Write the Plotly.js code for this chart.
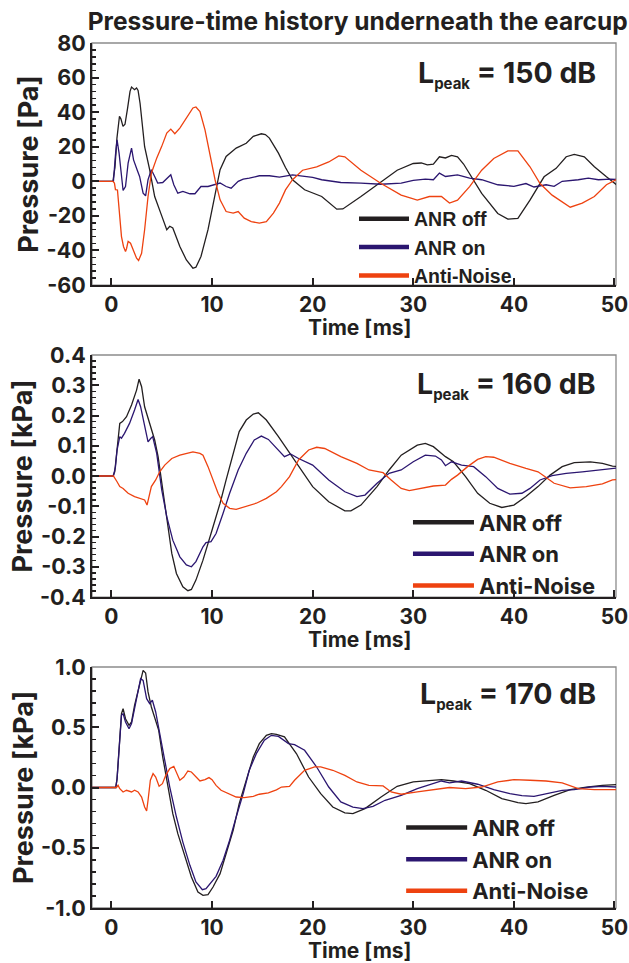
<!DOCTYPE html>
<html>
<head>
<meta charset="utf-8">
<script src="https://cdn.plot.ly/plotly-3.0.1.min.js"></script>
<style>
  html, body { margin: 0; padding: 0; background: #ffffff; }
  #chart { width: 629px; height: 963px; }
</style>
</head>
<body>
<div id="chart"></div>
<script>
// ---------------- DATA ----------------
const seriesNames = ['ANR off', 'ANR on', 'Anti-Noise'];
const panelLabels = ['150 dB', '160 dB', '170 dB'];
const yTitles = ['Pressure [Pa]', 'Pressure [kPa]', 'Pressure [kPa]'];
const xTitle = 'Time [ms]';

const xTickVals = [0, 10, 20, 30, 40, 50];
const xTickText = ['0', '10', '20', '30', '40', '50'];
const yTickVals1 = [-60, -40, -20, 0, 20, 40, 60, 80];
const yTickText1 = ['-60', '-40', '-20', '0', '20', '40', '60', '80'];
const yTickVals2 = [-0.4, -0.3, -0.2, -0.1, 0, 0.1, 0.2, 0.3, 0.4];
const yTickText2 = ['-0.4', '-0.3', '-0.2', '-0.1', '0.0', '0.1', '0.2', '0.3', '0.4'];
const yTickVals3 = [-1, -0.5, 0, 0.5, 1];
const yTickText3 = ['-1.0', '-0.5', '0.0', '0.5', '1.0'];

// Panel 1: Lpeak = 150 dB, pressure in Pa
const t150Off = [-2,0.15,0.35,0.55,0.8,0.95,1.15,1.35,1.6,1.85,2.0,2.3,2.5,2.65,2.85,3.0,3.3,3.8,4.3,5.0,5.5,5.8,6.1,6.3,6.8,7.45,8.1,8.4,8.9,9.6,10.3,10.8,11.4,12.4,13.4,14.1,14.9,15.3,15.7,16.6,17.3,18.0,19.2,20.9,22.4,23.0,24.8,26.8,28.4,30.0,30.8,31.4,32.0,32.6,33.2,33.8,34.4,35.0,35.6,36.8,38.4,39.4,40.4,41.6,43.0,44.2,45.2,46.0,47.0,48.0,49.2,50.2];
const p150Off = [0,0,8,25,37.6,36,31.8,33,42,52,54.5,53,54,52.6,45,37.6,20,6.7,-8.8,-20,-28,-26,-27,-30,-37.7,-45.5,-50.3,-49.7,-43.5,-28,-8.8,6.7,14.4,19.2,22,26,27.5,27,25,16.3,8,0.9,-4.9,-8.8,-16.1,-16,-8.8,-0.3,6.4,10.3,10.6,9.5,9.9,14.2,13.5,15,14.2,10,4.5,-7,-18.6,-21.9,-21.5,-10.9,2.6,7.5,14.2,15.6,14.2,8.4,2.6,-2];

const t150On = [-2,0.2,0.4,0.56,0.76,1.0,1.16,1.4,1.66,2.0,2.2,2.55,2.8,3.15,3.4,3.64,3.97,4.3,4.6,5.1,5.5,5.9,6.2,6.6,7.1,7.8,8.3,8.9,9.6,10.3,10.8,11.4,11.9,12.6,13.1,13.7,14.7,15.7,16.7,18.0,20.0,20.9,22.8,24.8,26.8,28.8,30.0,31.2,32.0,32.6,33.2,34.4,35.6,36.8,38.4,40.0,41.2,42.0,43.2,44.0,44.8,46.4,47.4,48.4,49.6,50.2];
const p150On = [0,0,15,24,16.3,0.9,-5.3,-3,10.5,19.2,12.4,6.7,2.8,-6.9,-8.4,0.9,6.7,2.8,-1,-0.7,1.8,3.8,-2,-6.9,-5.9,-7.2,-7.2,-3,-3,-2,-1,-3,-4,0,1.3,1.8,3.2,3.2,2.4,3.7,2.3,0.9,-0.7,-1.1,-1.7,-1.1,0.5,1.3,0.9,4.7,2.8,3.7,1.8,0.9,-2,-2.9,-1.3,-3.3,-2,-2.9,0,0.9,1.8,0.9,1.3,1];

const t150Anti = [-2,0.15,0.3,0.4,0.6,0.76,1.0,1.2,1.4,1.5,1.66,1.9,2.15,2.5,2.7,3.0,3.3,3.64,3.97,4.5,5.0,5.5,5.9,6.3,6.8,7.45,8.1,8.4,8.8,9.3,9.8,10.3,10.8,11.4,12.1,12.6,13.2,13.9,14.7,15.4,16.1,16.7,17.3,18.0,19.0,20.4,21.6,22.6,23.2,24.8,26.8,28.8,30.4,31.6,32.8,33.6,34.4,35.6,36.8,38.0,39.4,40.4,41.6,42.6,43.8,44.8,45.6,46.8,48.0,49.2,50.2];
const p150Anti = [0,0,-1,-4.8,-5,-16.5,-32,-37.7,-40.6,-39,-34.8,-35.8,-39.7,-44.5,-45.8,-41.6,-28,-8.8,4.7,13.4,20.2,27.9,30.2,27.5,30.8,36.6,42.4,43,40.4,29.8,14.4,0.9,-10.7,-17.5,-18.4,-17.5,-21.3,-23.3,-24.2,-23.3,-18.4,-12.6,-5,0.9,6.4,8.4,11.2,14.7,14.2,6.4,-1.3,-8,-10.9,-8.8,-8.8,-12.6,-10.9,-3.1,6.4,13.2,17.6,17.6,8.4,-1.3,-8,-11.8,-15,-12.6,-8.8,-2,1];

// Panel 2: Lpeak = 160 dB, pressure in kPa
const t160Off = [-2,0.15,0.33,0.56,0.83,1.1,1.5,2.0,2.5,2.75,3.0,3.3,3.8,4.3,4.64,5.0,5.5,6.0,6.46,7.1,7.6,7.95,8.4,9.1,9.9,10.8,11.4,12.1,12.7,13.4,14.1,14.6,15.4,16.6,18.4,20.0,21.6,23.2,23.8,24.8,26.4,27.6,28.8,30.4,31.2,32.0,33.2,34.0,35.2,36.4,37.6,38.8,40.0,41.2,42.4,43.6,44.8,46.0,47.6,48.8,49.8,50.2];
const p160Off = [0,0,0.014,0.097,0.174,0.18,0.196,0.235,0.284,0.32,0.295,0.229,0.174,0.119,0.064,-0.024,-0.145,-0.256,-0.322,-0.366,-0.379,-0.375,-0.344,-0.278,-0.19,-0.09,-0.013,0.069,0.147,0.185,0.205,0.209,0.185,0.13,0.042,-0.035,-0.085,-0.115,-0.115,-0.096,-0.035,0.02,0.069,0.102,0.108,0.097,0.064,0.047,-0.002,-0.057,-0.09,-0.104,-0.096,-0.068,-0.035,0.003,0.031,0.044,0.047,0.042,0.033,0.032];

const t160On = [-2,0.2,0.4,0.56,0.83,1.0,1.3,1.8,2.3,2.65,2.9,3.3,3.64,3.9,4.1,4.5,5.0,5.5,6.1,6.8,7.45,7.95,8.4,9.1,9.4,9.9,10.4,11.1,11.75,12.6,13.4,14.2,14.9,15.6,16.4,17.2,17.8,18.6,20.0,21.6,23.2,24.4,25.2,26.4,27.6,28.8,30.0,31.2,32.2,32.8,33.2,33.8,34.8,36.0,37.2,38.4,39.6,40.8,41.6,42.6,43.8,45.2,46.8,48.4,49.8,50.2];
const p160On = [0,0,0.03,0.086,0.13,0.125,0.141,0.174,0.218,0.253,0.229,0.163,0.113,0.124,0.13,0.075,-0.046,-0.134,-0.212,-0.267,-0.294,-0.3,-0.283,-0.234,-0.22,-0.217,-0.19,-0.123,-0.057,0.02,0.075,0.119,0.132,0.121,0.091,0.064,0.073,0.058,0.036,-0.013,-0.052,-0.068,-0.063,-0.024,0.009,0.02,0.047,0.069,0.066,0.053,0.034,0.047,0.036,0.031,-0.002,-0.041,-0.06,-0.057,-0.041,-0.013,0.001,0.009,0.014,0.02,0.025,0.026];

const t160Anti = [-2,0.2,0.56,0.83,1.16,1.66,2.3,3.0,3.3,3.54,3.74,3.97,4.4,4.8,5.3,6.0,6.8,7.6,8.1,8.8,9.1,9.6,10.1,10.6,11.1,11.75,12.4,13.4,14.4,15.4,16.4,16.9,17.7,18.6,19.6,20.4,21.2,22.8,24.4,25.6,26.6,27.0,27.8,28.8,29.6,30.8,32.0,33.2,33.8,34.4,35.4,36.4,37.2,38.0,39.6,41.2,42.4,43.0,44.0,45.6,47.2,48.8,49.8,50.2];
const p160Anti = [0,0,-0.019,-0.035,-0.041,-0.057,-0.068,-0.077,-0.079,-0.096,-0.068,-0.035,-0.013,0.014,0.036,0.058,0.069,0.077,0.08,0.075,0.069,0.031,-0.013,-0.057,-0.09,-0.107,-0.11,-0.101,-0.09,-0.074,-0.052,-0.035,-0.002,0.053,0.086,0.095,0.091,0.064,0.042,0.02,0.014,0.011,-0.013,-0.041,-0.048,-0.041,-0.033,-0.03,-0.011,0.003,0.031,0.055,0.064,0.062,0.042,0.025,0.014,0,-0.024,-0.039,-0.035,-0.026,-0.013,-0.012];

// Panel 3: Lpeak = 170 dB, pressure in kPa
const t170Off = [-2,0.43,0.56,0.76,1.0,1.16,1.4,1.75,2.0,2.3,2.65,3.0,3.15,3.4,3.64,3.97,4.3,4.7,5.1,5.6,6.1,6.6,7.3,7.95,8.6,9.1,9.6,10.1,10.8,11.4,12.1,12.7,13.4,14.1,14.7,15.4,15.9,16.4,17.2,18.4,19.6,20.8,22.0,23.2,24.0,25.2,26.8,28.4,30.0,31.6,32.8,34.0,35.6,37.2,38.8,40.4,41.2,42.4,44.0,45.6,47.2,48.8,50.2];
const p170Off = [0,0,0.074,0.364,0.613,0.654,0.571,0.516,0.544,0.682,0.806,0.945,0.972,0.95,0.793,0.668,0.571,0.474,0.253,0.004,-0.217,-0.383,-0.577,-0.742,-0.867,-0.895,-0.889,-0.826,-0.715,-0.549,-0.355,-0.134,0.06,0.253,0.364,0.433,0.447,0.441,0.42,0.28,0.087,-0.051,-0.162,-0.211,-0.217,-0.175,-0.079,0.01,0.046,0.054,0.065,0.054,0.032,-0.023,-0.092,-0.126,-0.134,-0.12,-0.065,-0.018,0.004,0.018,0.024];

const t170On = [-2,0.43,0.56,0.76,1.0,1.16,1.4,1.75,2.0,2.3,2.65,2.9,3.15,3.5,3.8,4.07,4.4,4.8,5.3,5.8,6.46,7.1,7.8,8.4,9.04,9.4,9.9,10.4,11.1,11.75,12.4,13.1,13.7,14.4,15.2,15.9,16.6,17.6,18.2,19.2,20.4,21.6,22.8,24.0,25.0,26.0,27.2,28.8,30.4,32.0,32.8,33.6,34.8,36.4,38.0,39.6,40.8,42.0,43.6,44.8,46.0,47.6,48.8,50.2];
const p170On = [0,0,0.07,0.336,0.6,0.613,0.544,0.488,0.53,0.654,0.793,0.903,0.889,0.737,0.696,0.724,0.627,0.461,0.226,0.004,-0.245,-0.453,-0.646,-0.784,-0.848,-0.84,-0.784,-0.737,-0.604,-0.438,-0.245,-0.051,0.143,0.281,0.392,0.433,0.424,0.364,0.355,0.309,0.17,0.004,-0.12,-0.162,-0.175,-0.156,-0.106,-0.065,-0.009,0.032,0.054,0.038,0.054,0.027,-0.018,-0.051,-0.068,-0.073,-0.045,-0.023,-0.018,0.004,0.01,0.004];

const t170Anti = [-2,0.5,0.66,0.83,1.16,1.5,2.0,2.3,2.65,3.0,3.3,3.5,3.64,3.87,4.14,4.4,4.74,5.07,5.4,5.8,6.2,6.5,6.8,7.2,7.6,7.95,8.4,8.8,9.3,9.7,10.0,10.4,10.9,11.6,12.4,13.2,14.1,14.7,15.6,16.4,16.9,17.7,18.2,19.2,20.2,20.8,22.0,23.2,24.4,25.6,27.0,27.8,28.8,30.4,32.0,33.6,35.2,36.8,38.4,40.0,41.6,43.2,44.8,46.4,48.0,50.2];
const p170Anti = [0,0,0.018,-0.01,-0.037,-0.023,-0.037,-0.023,-0.037,-0.079,-0.162,-0.195,-0.106,0.06,0.115,0.087,0.01,0.032,0.101,0.157,0.176,0.115,0.06,0.087,0.137,0.129,0.087,0.054,0.065,0.082,0.065,0.018,-0.023,-0.051,-0.079,-0.084,-0.073,-0.056,-0.045,-0.02,0.004,0.01,0.06,0.143,0.171,0.171,0.143,0.101,0.046,0.018,0.013,-0.037,-0.056,-0.037,-0.018,0,-0.009,0.004,0.046,0.065,0.06,0.054,0.038,-0.009,-0.018,-0.018];

// ---------------- STYLE ----------------
const INK = '#231f20';
const colors = ['#231f20', '#2b1670', '#ee4210'];
const FONT = 'Inter, "Liberation Sans", Arial, sans-serif';
const ARIAL = '"Liberation Sans", Arial, sans-serif';

const panels = [
  {t: [t150Off, t150On, t150Anti], p: [p150Off, p150On, p150Anti]},
  {t: [t160Off, t160On, t160Anti], p: [p160Off, p160On, p160Anti]},
  {t: [t170Off, t170On, t170Anti], p: [p170Off, p170On, p170Anti]}
];
const legendIds = ['legend', 'legend2', 'legend3'];
const axX = ['x', 'x2', 'x3'];
const axY = ['y', 'y2', 'y3'];

const traces = [];
panels.forEach((pan, i) => {
  for (let k = 0; k < 3; k++) {
    traces.push({
      x: pan.t[k], y: pan.p[k], type: 'scatter', mode: 'lines',
      xaxis: axX[i], yaxis: axY[i], name: seriesNames[k], showlegend: false,
      line: {color: colors[k], width: 1.3}, hoverinfo: 'skip'
    });
  }
  // legend entries (thick swatches as in the original)
  for (let k = 0; k < 3; k++) {
    traces.push({
      x: [null], y: [null], type: 'scatter', mode: 'lines',
      xaxis: axX[i], yaxis: axY[i], name: seriesNames[k], showlegend: true,
      legend: legendIds[i], line: {color: colors[k], width: 4.5}
    });
  }
});

const xRange = [-1.93, 50.15];
function xaxisDef(anchor) {
  return {
    anchor: anchor, range: xRange, tickvals: xTickVals, ticktext: xTickText,
    showline: true, linecolor: INK, linewidth: 2, mirror: false,
    ticks: 'inside', ticklen: 7, tickwidth: 2, tickcolor: INK,
    showgrid: false, zeroline: false,
    tickfont: {family: FONT, size: 21, color: INK, weight: 700}
  };
}
function yaxisDef(domain, range, vals, text, title, minorStep) {
  return {
    domain: domain, range: range, tickvals: vals, ticktext: text,
    showline: true, linecolor: INK, linewidth: 2, mirror: false,
    ticks: 'inside', ticklen: 7, tickwidth: 2, tickcolor: INK,
    minor: {ticks: 'inside', ticklen: 4, tickwidth: 1.5, tickcolor: INK, dtick: minorStep, showgrid: false},
    showgrid: false, zeroline: false,
    tickfont: {family: FONT, size: 21.5, color: INK, weight: 700},
    title: {text: title, standoff: 0, font: {family: FONT, size: 27, color: INK, weight: 700}}
  };
}

const frame = (xr, yr) => ({
  type: 'rect', xref: xr + ' domain', yref: yr + ' domain', x0: 0, x1: 1, y0: 0, y1: 1,
  line: {color: '#8c8c8c', width: 1.3}, layer: 'below'
});

const annY = [0.873, 0.878, 0.884];
const annotations = [];
panelLabels.forEach((lab, i) => {
  annotations.push({
    xref: axX[i] + ' domain', yref: axY[i] + ' domain',
    x: 0.966, y: annY[i], xanchor: 'right', yanchor: 'middle', showarrow: false,
    text: 'L<sub><span style="font-size:15px">peak</span></sub> = ' + lab,
    font: {family: FONT, size: 28.5, color: INK, weight: 700}
  });
  // x-axis title of each panel
  annotations.push({
    xref: axX[i] + ' domain', yref: axY[i] + ' domain',
    x: 0.511, y: -0.175, xanchor: 'center', yanchor: 'middle', showarrow: false,
    text: xTitle,
    font: {family: FONT, size: 21, color: INK, weight: 700}
  });
});

function legendDef(x, y, fam, size, iw) {
  return {
    x: x, y: y, xanchor: 'left', yanchor: 'top', bgcolor: 'rgba(0,0,0,0)',
    borderwidth: 0, itemwidth: iw, tracegroupgap: 0,
    font: {family: fam, size: size, color: INK, weight: 700}
  };
}

const layout = {
  width: 629, height: 963,
  margin: {l: 92, r: 13, t: 43, b: 55},
  paper_bgcolor: '#ffffff', plot_bgcolor: '#ffffff',
  showlegend: true,
  title: {
    text: 'Pressure-time history underneath the earcup',
    x: 0.507, xref: 'paper', xanchor: 'center',
    y: 0.978, yref: 'container', yanchor: 'middle',
    font: {family: FONT, size: 24.5, color: INK, weight: 700}
  },
  xaxis: xaxisDef('y'),
  xaxis2: xaxisDef('y2'),
  xaxis3: xaxisDef('y3'),
  yaxis: yaxisDef([0.7202, 1], [-60, 80], yTickVals1, yTickText1, yTitles[0], 4),
  yaxis2: yaxisDef([0.3595, 0.6393], [-0.4, 0.4], yTickVals2, yTickText2, yTitles[1], 0.02),
  yaxis3: yaxisDef([0, 0.2786], [-1, 1], yTickVals3, yTickText3, yTitles[2], 0.1),
  legend: legendDef(0.5, 0.819, ARIAL, 19.5, 50),
  legend2: legendDef(0.603, 0.47, FONT, 22, 61),
  legend3: legendDef(0.59, 0.117, FONT, 22, 61),
  shapes: [frame('x', 'y'), frame('x2', 'y2'), frame('x3', 'y3')],
  annotations: annotations
};

Plotly.newPlot('chart', traces, layout, {displayModeBar: false, staticPlot: true});
</script>
</body>
</html>
